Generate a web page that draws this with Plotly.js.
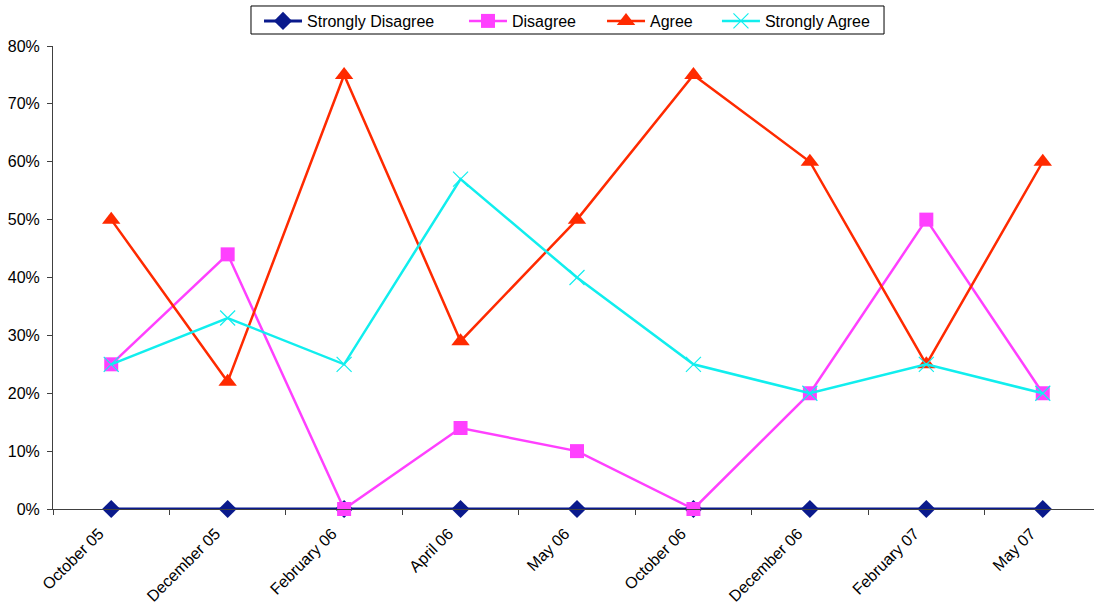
<!DOCTYPE html>
<html><head><meta charset="utf-8">
<script src="https://cdn.plot.ly/plotly-3.0.1.min.js"></script>
<style>html,body{margin:0;padding:0;background:#fff;}#chart{width:1094px;height:609px;}</style>
</head><body><div id="chart"></div>
<script>
const categories = ["October 05","December 05","February 06","April 06","May 06","October 06","December 06","February 07","May 07"];
const seriesNames = ["Strongly Disagree","Disagree","Agree","Strongly Agree"];
const stronglyDisagree = [0,0,0,0,0,0,0,0,0];
const disagree = [0.25,0.44,0,0.14,0.10,0,0.20,0.50,0.20];
const agree = [0.50,0.22,0.75,0.29,0.50,0.75,0.60,0.25,0.60];
const stronglyAgree = [0.25,0.33,0.25,0.57,0.40,0.25,0.20,0.25,0.20];
const yTicks = [0,0.1,0.2,0.3,0.4,0.5,0.6,0.7,0.8];

const traces = [
  {name:seriesNames[0], legend:"legend", x:categories, y:stronglyDisagree, mode:"lines+markers",
   line:{color:"#0a1a8c", width:3}, marker:{symbol:"diamond", size:14, color:"#0a1a8c"}, cliponaxis:false},
  {name:seriesNames[1], legend:"legend2", x:categories, y:disagree, mode:"lines+markers",
   line:{color:"#ff40ff", width:2.5}, marker:{symbol:"square", size:14, color:"#ff40ff"}, cliponaxis:false},
  {name:seriesNames[2], legend:"legend3", x:categories, y:agree, mode:"lines+markers",
   line:{color:"#ff2a00", width:2.5}, marker:{symbol:"triangle-up", size:16, color:"#ff2a00"}, cliponaxis:false},
  {name:seriesNames[3], legend:"legend4", x:categories, y:stronglyAgree, mode:"lines+markers",
   line:{color:"#11eeee", width:2.5}, marker:{symbol:"x-thin-open", size:15, color:"#11eeee", line:{color:"#11eeee", width:1.2}}, cliponaxis:false}
];

function leg(x){
  return {orientation:"h", x:x, xanchor:"left", y:1.0907, yanchor:"top", itemwidth:38,
    borderwidth:0, bgcolor:"rgba(0,0,0,0)", font:{size:16}};
}

const layout = {
  width:1094, height:609,
  margin:{l:53, r:0, t:46, b:100},
  paper_bgcolor:"#fff", plot_bgcolor:"#fff",
  font:{family:"Liberation Sans, Arial, sans-serif", size:16, color:"#000"},
  showlegend:true,
  legend:leg(0.1979), legend2:leg(0.3948), legend3:leg(0.5274), legend4:leg(0.6378),
  shapes:[{type:"rect", xref:"paper", yref:"paper", x0:0.1902, x1:0.7983, y0:1.0259, y1:1.0864,
    line:{color:"#000", width:1}, fillcolor:"#fff", layer:"below"}],
  xaxis:{type:"category", range:[-0.5,8.44], tickson:"boundaries", ticks:"outside", ticklen:5,
    tickcolor:"#404040", showline:true, linecolor:"#404040", linewidth:1, showgrid:false,
    zeroline:false, tickangle:-45, tickfont:{size:16}, ticklabelstandoff:8, ticklabelshift:-12},
  yaxis:{range:[0,0.8], tickvals:yTicks, tickformat:".0%", ticks:"outside", ticklen:5,
    tickcolor:"#404040", showline:true, linecolor:"#404040", linewidth:1, showgrid:false,
    zeroline:false, tickfont:{size:16}, ticklabelstandoff:4}
};
Plotly.newPlot("chart", traces, layout, {displayModeBar:false, staticPlot:true});
</script></body></html>
